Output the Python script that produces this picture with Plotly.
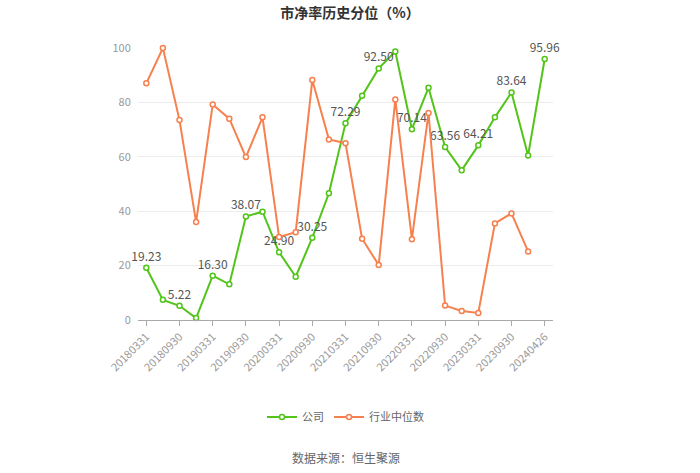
import plotly.graph_objects as go

dates = ["20180331", "20180630", "20180930", "20181231", "20190331", "20190630", "20190930", "20191231",
         "20200331", "20200630", "20200930", "20201231", "20210331", "20210630", "20210930", "20211231",
         "20220331", "20220630", "20220930", "20221231", "20230331", "20230630", "20230930", "20231231",
         "20240426"]
company = [19.23, 7.4, 5.22, 0.7, 16.30, 13.1, 38.07, 39.8, 24.90, 15.9, 30.25, 46.6, 72.29, 82.4,
           92.50, 98.7, 70.14, 85.4, 63.56, 55.1, 64.21, 74.5, 83.64, 60.5, 95.96]
industry = [87.0, 100.0, 73.5, 36.0, 79.2, 74.0, 59.9, 74.5, 30.5, 32.3, 88.2, 66.4, 65.0, 29.9,
            20.2, 81.1, 29.7, 76.1, 5.3, 3.3, 2.6, 35.5, 39.2, 25.2]
tick_labels = dates[::2]

label_text = [f"{v:.2f}" if i % 2 == 0 else "" for i, v in enumerate(company)]

green = "#52c41a"
orange = "#f7804f"
font = "Noto Sans CJK SC"

fig = go.Figure()
fig.add_trace(go.Scatter(
    x=dates, y=company, name="公司", mode="lines+markers+text",
    line=dict(color=green, width=2),
    marker=dict(symbol="circle", size=5, color="white", line=dict(color=green, width=1.5)),
    text=label_text, textposition="top center", cliponaxis=False,
    textfont=dict(family=font, size=12, color="#555"),
))
fig.add_trace(go.Scatter(
    x=dates[:len(industry)], y=industry, name="行业中位数", mode="lines+markers",
    line=dict(color=orange, width=2), cliponaxis=False,
    marker=dict(symbol="circle", size=5, color="white", line=dict(color=orange, width=1.5)),
))

fig.update_layout(
    width=700, height=473,
    margin=dict(l=138, r=147, t=48, b=153),
    paper_bgcolor="white", plot_bgcolor="white",
    font=dict(family=font, color="#999", size=11),
    title=dict(text="<b>市净率历史分位（%）</b>", x=0.5, xanchor="center", y=0.972, yanchor="middle",
               font=dict(family=font, size=14, color="#333")),
    legend=dict(orientation="h", x=0.5, xanchor="center", y=-0.357, yanchor="middle",
                font=dict(family=font, size=11, color="#666"), itemwidth=30),
    xaxis=dict(type="category", range=[-0.5, 24.5], tickmode="array", tickvals=tick_labels,
               ticktext=tick_labels, tickangle=-45, ticks="outside", ticklen=5, tickcolor="#aaa",
               showline=True, linecolor="#aaa", linewidth=1, showgrid=False,
               tickfont=dict(family=font, size=11, color="#999")),
    yaxis=dict(range=[0, 100], tickvals=[0, 20, 40, 60, 80, 100], showgrid=True, gridcolor="#ececec",
               zeroline=False, showline=False, ticks="outside", ticklen=4, tickcolor="rgba(0,0,0,0)",
               tickfont=dict(family=font, size=11, color="#999")),
    annotations=[dict(text="数据来源：恒生聚源", x=0.5, xref="paper", y=-0.504, yref="paper",
                      showarrow=False, xanchor="center", yanchor="middle",
                      font=dict(family=font, size=12, color="#666"))],
)

fig.write_html("out.html")
